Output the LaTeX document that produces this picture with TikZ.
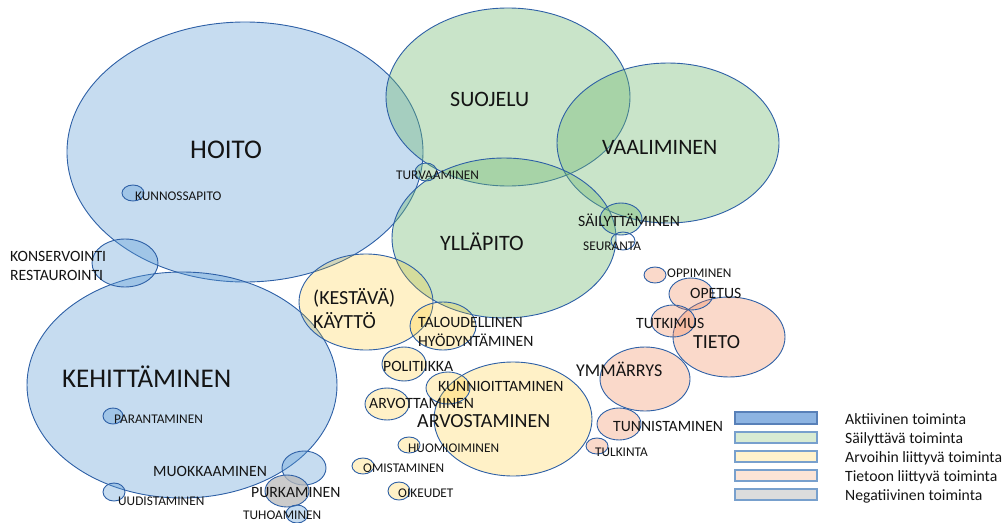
\documentclass[tikz,border=0pt]{standalone}
\usepackage{fontspec}
\setmainfont{Carlito}
\usetikzlibrary{shapes.geometric}
\definecolor{edgeblue}{RGB}{46,96,166}
\definecolor{cblue}{RGB}{91,155,213}
\definecolor{cgreen}{RGB}{112,184,112}
\definecolor{cyellow}{RGB}{255,192,0}
\definecolor{cpink}{RGB}{240,128,80}
\definecolor{cgray}{RGB}{185,185,185}
\definecolor{lgblue}{RGB}{141,180,226}
\definecolor{lggreen}{RGB}{216,235,211}
\definecolor{lgyellow}{RGB}{255,242,204}
\definecolor{lgpink}{RGB}{252,228,214}
\definecolor{lggray}{RGB}{220,220,220}
\definecolor{lgedge}{RGB}{120,160,205}
\definecolor{txt}{RGB}{20,20,20}
\tikzset{
  blob/.style={shape=ellipse, draw=edgeblue, line width=0.9pt, inner sep=0pt, outer sep=0pt},
  rad/.style 2 args={minimum width={2*#1pt}, minimum height={2*#2pt}},
  bluef/.style={blob, fill=cblue, fill opacity=0.35},
  greenf/.style={blob, fill=cgreen, fill opacity=0.38},
  yellowf/.style={blob, fill=cyellow, fill opacity=0.22},
  pinkf/.style={blob, fill=cpink, fill opacity=0.3},
  grayf/.style={blob, fill=cgray, fill opacity=0.75},
  nofill/.style={blob},
  lbl/.style={anchor=base west, inner sep=0pt, text=txt},
  fA/.style={lbl, font=\fontsize{27}{30}\selectfont},
  fB/.style={lbl, font=\fontsize{22}{26}\selectfont},
  fC/.style={lbl, font=\fontsize{20}{24}\selectfont},
  fD/.style={lbl, font=\fontsize{18}{22}\selectfont},
  fE/.style={lbl, font=\fontsize{15.7}{19}\selectfont},
  fF/.style={lbl, font=\fontsize{13.3}{16}\selectfont},
  legbox/.style={draw=lgedge, line width=1.1pt, minimum width=82pt, minimum height=11pt, inner sep=0pt},
}
\begin{document}
\begin{tikzpicture}[x=1pt,y=-1pt]
\useasboundingbox (0,0) rectangle (1006,522);
% big blue
\node[bluef, rad={178}{130}] (hoito) at (245,152) {};
\node[bluef, rad={155}{113}] (kehitt) at (182,385) {};
% big green
\node[greenf, rad={122}{89}] (suojelu) at (508,97) {};
\node[greenf, rad={111}{80}] (vaalim) at (668,143) {};
\node[greenf, rad={112}{80}] (yllapito) at (504,238) {};
% yellow
\node[yellowf, rad={67}{48}] (kaytto) at (366,302) {};
\node[yellowf, rad={79}{57}] (arvost) at (513,419) {};
\node[yellowf, rad={33}{24}] (talous) at (443,326) {};
\node[yellowf, rad={22}{17}] (politiikka) at (404,364) {};
\node[yellowf, rad={22}{16}] (kunnioit) at (448,388) {};
\node[yellowf, rad={22}{16}] (arvott) at (387,404) {};
\node[yellowf, rad={11}{8}] (huomioi) at (409,445) {};
\node[yellowf, rad={11}{8}] (omista) at (363,466) {};
\node[yellowf, rad={11}{9}] (oikeudet) at (399,491) {};
% pink
\node[pinkf, rad={56}{40}] (tieto) at (729,337) {};
\node[pinkf, rad={45}{32}] (ymmarrys) at (645,379) {};
\node[pinkf, rad={11}{8}] (oppiminen) at (655,275) {};
\node[pinkf, rad={22}{16}] (opetus) at (691,294) {};
\node[pinkf, rad={22}{16}] (tutkimus) at (673,321) {};
\node[pinkf, rad={22}{16}] (tunnista) at (619,424) {};
\node[pinkf, rad={11}{8}] (tulkinta) at (597,446) {};
% small blue
\node[bluef, rad={33}{24}] (konserv) at (125,263) {};
\node[bluef, rad={11}{8}] (kunnossa) at (133,193) {};
\node[bluef, rad={10}{8}] (paranta) at (113,416) {};
\node[bluef, rad={22}{17}] (muokkaa) at (304,468) {};
\node[bluef, rad={11}{9}] (uudista) at (114,492) {};
\node[grayf, rad={22}{16}] (purka) at (287,491) {};
\node[bluef, rad={11}{9}] (tuhoa) at (297,514) {};
% small green
\node[greenf, rad={11}{9}] (turvaa) at (426,172) {};
\node[greenf, rad={21}{16}] (sailytt) at (621,219) {};
\node[nofill, rad={12}{9}] (seuranta) at (623,241) {};
% labels
\node[fA] (t-hoito) at (190,158.5) {HOITO};
\node[fA] (t-kehitt) at (62,387) {KEHITTÄMINEN};
\node[fB] (t-suojelu) at (450,106) {SUOJELU};
\node[fB] (t-vaalim) at (602,154) {VAALIMINEN};
\node[fB] (t-yllapito) at (440,250) {YLLÄPITO};
\node[fF] (t-turvaa) at (396,179.5) {TURVAAMINEN};
\node[fE] (t-sailytt) at (578,226) {SÄILYTTÄMINEN};
\node[fF] (t-seuranta) at (583,250) {SEURANTA};
\node[fF] (t-kunnossa) at (135,200.5) {KUNNOSSAPITO};
\node[fE] (t-konserv) at (10,261) {KONSERVOINTI};
\node[fE] (t-restaur) at (10,280) {RESTAUROINTI};
\node[fF] (t-paranta) at (114,423) {PARANTAMINEN};
\node[fE] (t-muokkaa) at (153,476) {MUOKKAAMINEN};
\node[fF] (t-uudista) at (118,505) {UUDISTAMINEN};
\node[fE] (t-purka) at (251,497) {PURKAMINEN};
\node[fF] (t-tuhoa) at (243,519) {TUHOAMINEN};
\node[fC] (t-kestava) at (313,304) {(KESTÄVÄ)};
\node[fC] (t-kaytto) at (313,328) {KÄYTTÖ};
\node[fE] (t-talous) at (418,327) {TALOUDELLINEN};
\node[fE] (t-hyodynt) at (418,346) {HYÖDYNTÄMINEN};
\node[fE] (t-politiikka) at (383,371) {POLITIIKKA};
\node[fE] (t-kunnioit) at (438,391) {KUNNIOITTAMINEN};
\node[fE] (t-arvott) at (369,408) {ARVOTTAMINEN};
\node[fC] (t-arvost) at (417,427) {ARVOSTAMINEN};
\node[fF] (t-huomioi) at (408,452) {HUOMIOIMINEN};
\node[fF] (t-omista) at (363,472) {OMISTAMINEN};
\node[fF] (t-oikeudet) at (398,497) {OIKEUDET};
\node[fF] (t-oppiminen) at (667,277) {OPPIMINEN};
\node[fE] (t-opetus) at (690,298) {OPETUS};
\node[fE] (t-tutkimus) at (636,328) {TUTKIMUS};
\node[fC] (t-tieto) at (693,348) {TIETO};
\node[fD] (t-ymmarrys) at (576,376) {YMMÄRRYS};
\node[fE] (t-tunnista) at (613,431) {TUNNISTAMINEN};
\node[fF] (t-tulkinta) at (595,456) {TULKINTA};
% legend
\node[legbox, fill=lgblue, draw=edgeblue!80, minimum height=12pt] (lb1) at (776,418) {};
\node[legbox, fill=lggreen] (lb2) at (776,437.5) {};
\node[legbox, fill=lgyellow] (lb3) at (776,456.5) {};
\node[legbox, fill=lgpink] (lb4) at (776,475.5) {};
\node[legbox, fill=lggray] (lb5) at (776,494.5) {};
\node[fE] (l1) at (845,424) {Aktiivinen toiminta};
\node[fE] (l2) at (845,443) {Säilyttävä toiminta};
\node[fE] (l3) at (845,462) {Arvoihin liittyvä toiminta};
\node[fE] (l4) at (845,481) {Tietoon liittyvä toiminta};
\node[fE] (l5) at (845,500) {Negatiivinen toiminta};
\end{tikzpicture}
\end{document}
